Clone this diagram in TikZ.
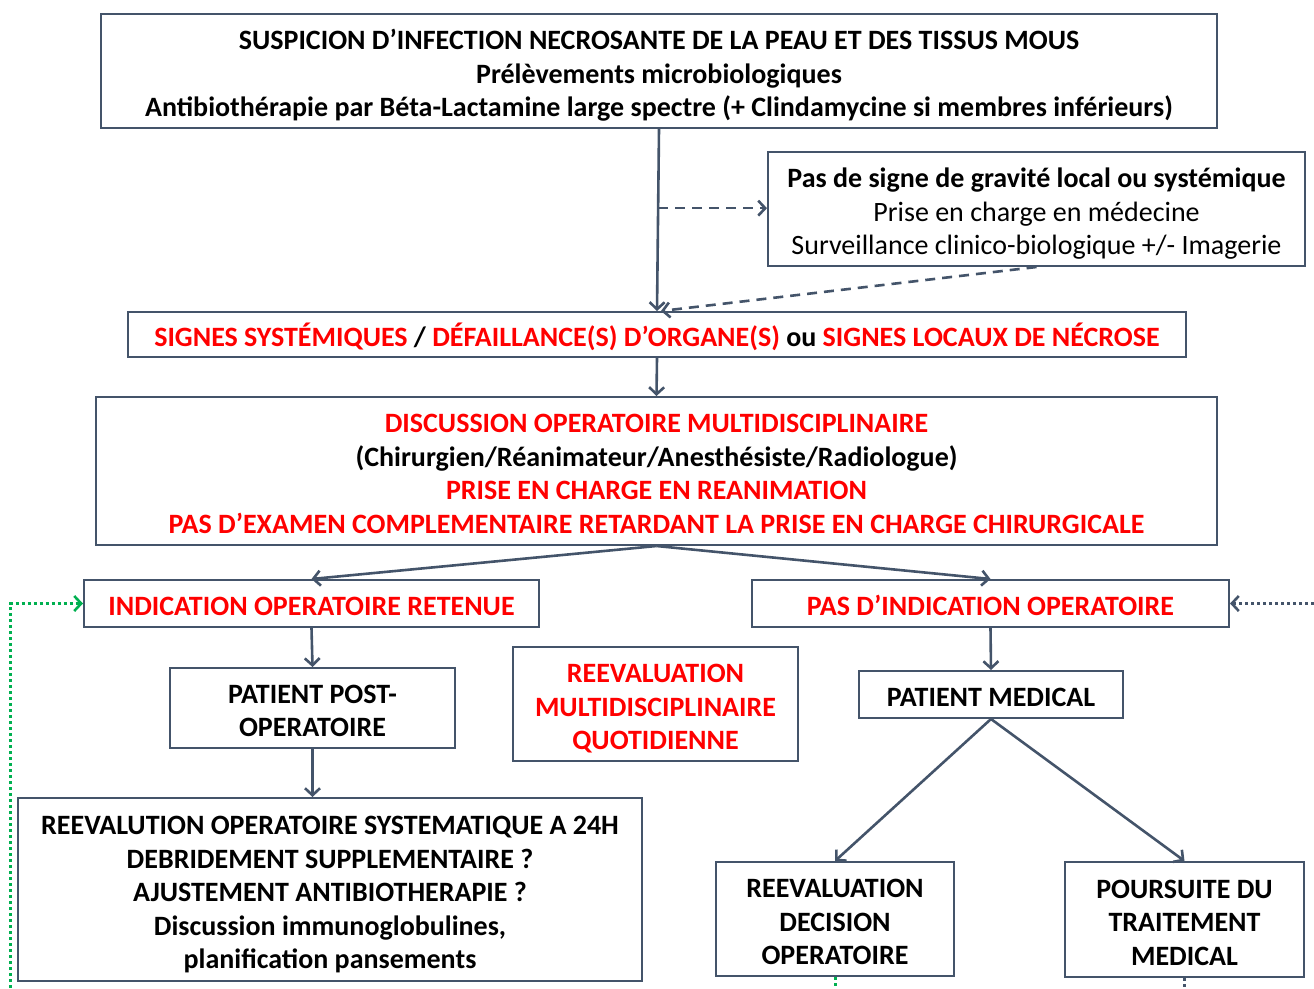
\documentclass[tikz,border=0pt]{standalone}
\usepackage{fontspec}
\setmainfont{Carlito}
\usetikzlibrary{arrows.meta,calc}
\definecolor{bord}{HTML}{44546A}
\definecolor{rred}{HTML}{FF0000}
\definecolor{ggreen}{HTML}{00B050}
\newcommand{\tA}{\rule{0pt}{32pt}}
\newcommand{\tZ}{\rule[-8pt]{0pt}{0pt}}
\begin{document}
\begin{tikzpicture}[x=1pt,y=1pt,
  box/.style={draw=bord,line width=2pt,fill=white,inner sep=0pt,align=center,
    font=\fontsize{28}{33.5}\selectfont\bfseries},
  conn/.style={draw=bord,line width=2.6pt,-{Straight Barb[length=7pt,width=15pt,line width=2.6pt]}},
  dconn/.style={conn,dash pattern=on 10pt off 7pt},
  gdot/.style={draw=ggreen,line width=3pt,dash pattern=on 3pt off 3pt},
  bdot/.style={draw=bord,line width=3pt,dash pattern=on 3pt off 3pt},
  red/.style={text=rred}]
\useasboundingbox (0,0) rectangle (1314,-988);
\node[box,minimum width=1116pt,minimum height=114pt] (b1) at (659,-71)
 {\tA SUSPICION D’INFECTION NECROSANTE DE LA PEAU ET DES TISSUS MOUS\\
  Prélèvements microbiologiques\\
  Antibiothérapie par Béta-Lactamine large spectre (+ Clindamycine si membres inférieurs)\tZ};
\node[box,minimum width=537pt,minimum height=114pt] (b2) at (1036.5,-209)
 {\tA Pas de signe de gravité local ou systémique\\
  \mdseries Prise en charge en médecine\\
  \mdseries Surveillance clinico-biologique +/- Imagerie\tZ};
\node[box,minimum width=1058pt,minimum height=45pt] (b3) at (657,-334.5)
 {\tA\textcolor{rred}{SIGNES SYSTÉMIQUES} / \textcolor{rred}{DÉFAILLANCE(S) D’ORGANE(S)} ou \textcolor{rred}{SIGNES LOCAUX DE NÉCROSE}\tZ};
\node[box,minimum width=1121pt,minimum height=148pt] (b4) at (656.5,-471)
 {\tA\textcolor{rred}{DISCUSSION OPERATOIRE MULTIDISCIPLINAIRE}\\
  (Chirurgien/Réanimateur/Anesthésiste/Radiologue)\\
  \textcolor{rred}{PRISE EN CHARGE EN REANIMATION}\\
  \textcolor{rred}{PAS D’EXAMEN COMPLEMENTAIRE RETARDANT LA PRISE EN CHARGE CHIRURGICALE}\tZ};
\node[box,red,minimum width=455pt,minimum height=47pt] (b5) at (311.5,-603.5)
 {\tA INDICATION OPERATOIRE RETENUE\tZ};
\node[box,red,minimum width=477pt,minimum height=47pt] (b6) at (990.5,-603.5)
 {\tA PAS D’INDICATION OPERATOIRE\tZ};
\node[box,minimum width=285pt,minimum height=80pt] (b7) at (312.5,-708)
 {\tA PATIENT POST-\\OPERATOIRE\tZ};
\node[box,red,minimum width=285pt,minimum height=114pt] (b8) at (655.5,-704)
 {\tA REEVALUATION\\MULTIDISCIPLINAIRE\\QUOTIDIENNE\tZ};
\node[box,minimum width=264pt,minimum height=47pt] (b9) at (991,-694.5)
 {\tA PATIENT MEDICAL\tZ};
\node[box,minimum width=624pt,minimum height=183pt] (b10) at (330,-889.5)
 {\tA REEVALUTION OPERATOIRE SYSTEMATIQUE A 24H\\
  DEBRIDEMENT SUPPLEMENTAIRE ?\\
  AJUSTEMENT ANTIBIOTHERAPIE ?\\
  Discussion immunoglobulines,\\
  planification pansements\tZ};
\node[box,minimum width=238pt,minimum height=114pt] (b11) at (835,-919)
 {\tA REEVALUATION\\DECISION\\OPERATOIRE\tZ};
\node[box,minimum width=239pt,minimum height=115pt] (b12) at (1184.5,-919.5)
 {\tA POURSUITE DU\\TRAITEMENT\\MEDICAL\tZ};
% connectors
\draw[conn] (b1.south) -- (b3.north);
\coordinate (br) at ($(b1.south)!0.435!(b3.north)$);
\draw[dconn] (br) -- (br -| b2.west);
\coordinate (b3in) at ($(b3.north)+(4,0)$);
\draw[dconn] (b2.south) -- (b3in);
\draw[conn] (b3.south) -- (b4.north);
\draw[conn] (b4.south) -- (b5.north);
\draw[conn] (b4.south) -- (b6.north);
\draw[conn] (b5.south) -- (b7.north);
\draw[conn] (b7.south) -- (b7.south |- b10.north);
\draw[conn] (b6.south) -- (b9.north);
\draw[conn] (b9.south) -- (b11.north);
\draw[conn] (b9.south) -- (b12.north);
% loops
\coordinate (g0) at (10,-988);
\draw[gdot,-{Straight Barb[length=7pt,width=15pt,line width=2.6pt]}] (g0) |- (b5.west);
\coordinate (g1) at (835,-988);
\draw[gdot] (b11.south) -- (g1);
\coordinate (k1) at (1184.5,-988);
\draw[bdot] (b12.south) -- (k1);
\coordinate (k0) at (1314,-603.5);
\draw[bdot,-{Straight Barb[length=7pt,width=15pt,line width=2.6pt]}] (k0) -- (b6.east);
\end{tikzpicture}
\end{document}
